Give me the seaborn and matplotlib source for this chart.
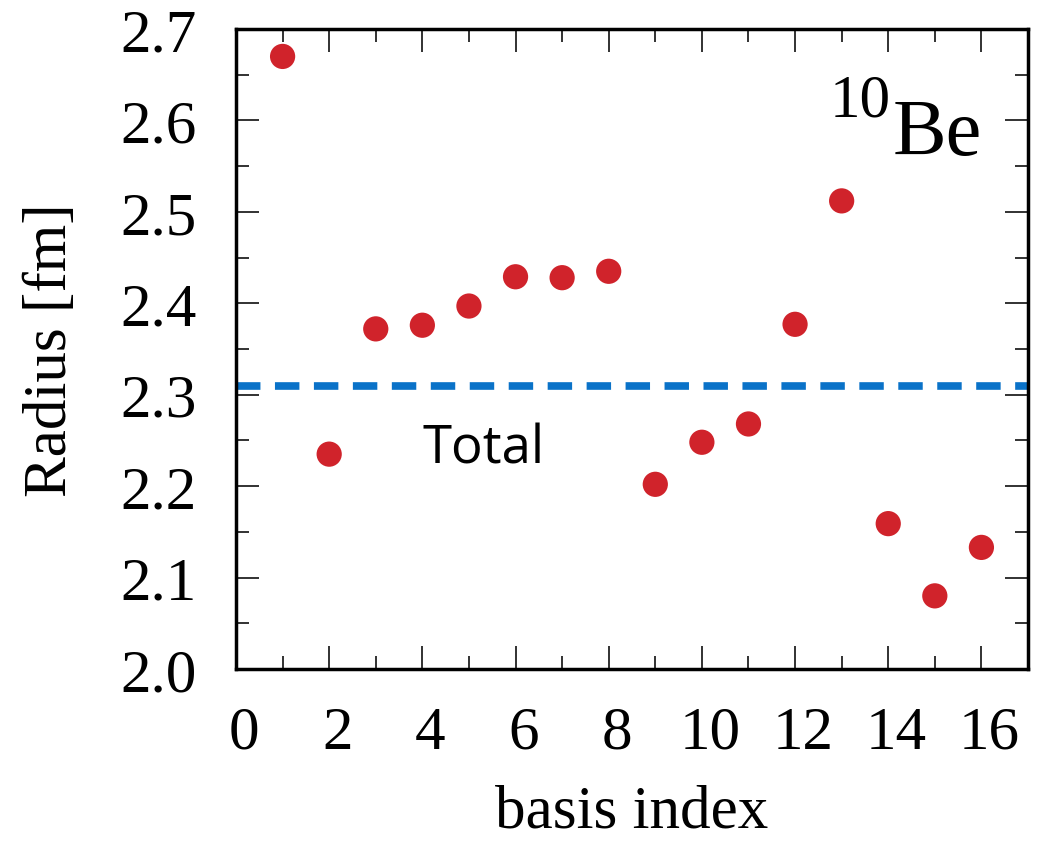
import matplotlib
matplotlib.use("Agg")
import matplotlib.pyplot as plt
import matplotlib.transforms as mtransforms
import seaborn as sns
import pandas as pd
from matplotlib.ticker import MultipleLocator

# data
basis_index = [1, 2, 3, 4, 5, 6, 7, 8, 9, 10, 11, 12, 13, 14, 15, 16]
radius = [2.670, 2.235, 2.372, 2.376, 2.397, 2.429, 2.428, 2.435,
          2.202, 2.248, 2.268, 2.377, 2.512, 2.159, 2.080, 2.133]
total_radius = 2.310
x_ticks = [0, 2, 4, 6, 8, 10, 12, 14, 16]
y_ticks = [2.0, 2.1, 2.2, 2.3, 2.4, 2.5, 2.6, 2.7]

df = pd.DataFrame({"basis index": basis_index, "Radius": radius})

sns.set_theme(style="ticks")
plt.rcParams["font.family"] = ["Liberation Serif", "DejaVu Serif"]
plt.rcParams["text.color"] = "black"
plt.rcParams["axes.labelcolor"] = "black"

fig = plt.figure(figsize=(10.4, 8.45), dpi=100)
ax = fig.add_axes([236 / 1040, 1 - 670 / 845, (1028 - 236) / 1040, (670 - 30) / 845])

ax.axhline(total_radius, color="#0A72C8", lw=5.5, ls=(0, (3.2, 1.9)), zorder=1)
sns.scatterplot(data=df, x="basis index", y="Radius", ax=ax, color="#D0232B",
                s=330, edgecolor="none", zorder=3, legend=False)

ax.set_xlim(0, 17)
ax.set_ylim(2.0, 2.7)
ax.set_xticks(x_ticks)
ax.set_yticks(y_ticks)
ax.set_yticklabels([f"{v:.1f}" for v in y_ticks])
ax.xaxis.set_minor_locator(MultipleLocator(1))
ax.yaxis.set_minor_locator(MultipleLocator(0.05))

for sp in ax.spines.values():
    sp.set_linewidth(2.5)
    sp.set_color("black")
    sp.set_visible(True)

ax.tick_params(which="both", direction="in", top=True, right=True,
               width=1.3, color="#222222")
ax.tick_params(which="major", length=16.5)
ax.tick_params(which="minor", length=9.5)
ax.tick_params(axis="both", which="major", labelsize=44, labelcolor="black")
ax.tick_params(axis="y", which="major", pad=28)
ax.tick_params(axis="x", which="major", pad=26)

# the reference's x tick labels sit slightly right of their ticks
offset = mtransforms.ScaledTranslation(8 / 100, 0, fig.dpi_scale_trans)
for lbl in ax.get_xticklabels():
    lbl.set_transform(lbl.get_transform() + offset)

ax.set_xlabel("basis index", fontsize=44, labelpad=17, color="black")
ax.set_ylabel("Radius [fm]", fontsize=44, labelpad=30, color="black")

ax.text(4.0, 2.226, "Total", fontsize=38, family=["Open Sans", "DejaVu Sans"],
        ha="left", va="baseline", color="black")
ax.text(14.06, 2.605, "10", fontsize=44, ha="right", va="baseline", color="black")
ax.text(14.1, 2.563, "Be", fontsize=58, ha="left", va="baseline", color="black")

fig.savefig("out.png", dpi=100)
